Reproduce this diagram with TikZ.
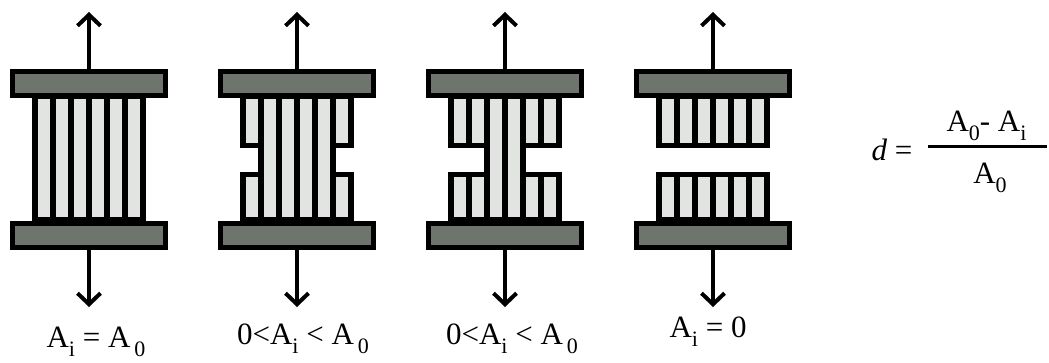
\documentclass[tikz,border=0pt]{standalone}
\usepackage{fontspec}
\setmainfont{Liberation Serif}
\usetikzlibrary{arrows.meta,positioning}
\definecolor{plategray}{HTML}{6E756C}
\definecolor{fibergray}{HTML}{E2E4E1}
\newcommand{\lo}[1]{\raisebox{-0.7ex}{\fontsize{22}{22}\selectfont #1}}

\begin{document}
\begin{tikzpicture}[x=1pt, y=-1pt,
  every node/.style={font=\fontsize{31}{34}\selectfont, inner sep=0pt},
  plate/.style={draw, line width=5pt, fill=plategray, minimum width=153pt, minimum height=24pt},
  fiber/.style={draw, line width=5.5pt, fill=fibergray},
  pull/.style={-{Straight Barb[length=11pt,width=23pt]}, line width=4pt}
]
\useasboundingbox (0,0) rectangle (1049,362);
% specimens: centre x / broken fibres on each side
\foreach \cx/\nb [count=\i] in {89/0, 297/1, 505/2, 713/3} {
  \foreach \k in {0,...,5} {
    \pgfmathsetmacro{\xa}{\cx-54+18*\k}
    \pgfmathsetmacro{\xb}{\xa+18}
    \pgfmathtruncatemacro{\cut}{(\k<\nb) || (\k>5-\nb)}
    \ifnum\cut=1
      \draw[fiber] (\xa,96) rectangle (\xb,145.5);
      \draw[fiber] (\xa,174.5) rectangle (\xb,220);
    \else
      \draw[fiber] (\xa,96) rectangle (\xb,220);
    \fi
  }
  \node[plate] (top\i) at (\cx,83.5) {};
  \node[plate] (bot\i) at (\cx,235.5) {};
  \coordinate (up\i) at (\cx,12);
  \coordinate (dn\i) at (\cx,307);
  \draw[pull] (top\i.north) -- (up\i);
  \draw[pull] (bot\i.south) -- (dn\i);
}

% labels
\node[anchor=base] (lab1) at (96,347) {A\lo{i} = A\hspace{4pt}\lo{0}};
\node[anchor=base] (lab2) at (303,344) {0<A\lo{i} < A\hspace{4pt}\lo{0}};
\node[anchor=base] (lab3) at (512,344) {0<A\lo{i} < A\hspace{4pt}\lo{0}};
\node[anchor=base] (lab4) at (708,337) {A\lo{i} = 0};

% damage variable
\node[anchor=base] (dvar) at (892,160) {\textit{d} =};
\node[anchor=base] (num) at (986.5,131) {A\lo{0}- A\lo{i}};
\node[anchor=base] (den) at (990,183) {A\lo{0}};
\coordinate (barl) at (928,146.5);
\coordinate (barr) at (1047,146.5);
\draw[line width=2.5pt] (barl) -- (barr);
\end{tikzpicture}
\end{document}
